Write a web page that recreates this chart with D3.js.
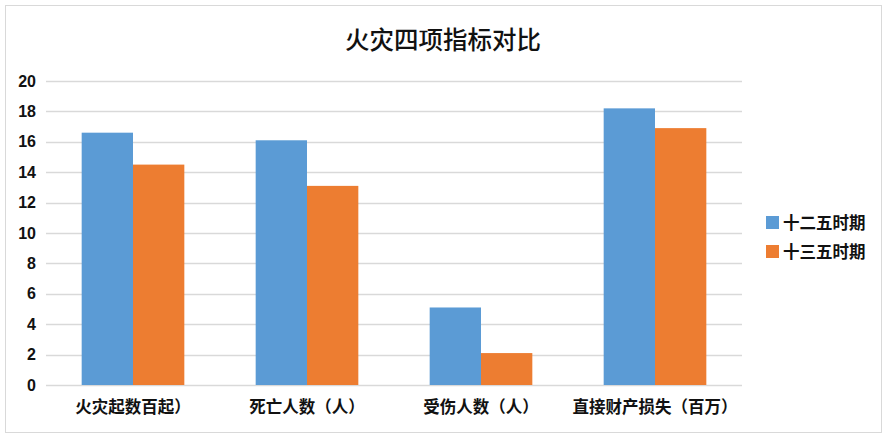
<!DOCTYPE html>
<html><head><meta charset="utf-8">
<script src="https://cdn.jsdelivr.net/npm/d3@7"></script>
<style>body{margin:0;background:#fff}</style>
</head><body>
<svg id="c" width="889" height="440"></svg>
<script>
const categories = ["火灾起数百起）", "死亡人数（人）", "受伤人数（人）", "直接财产损失（百万）"];
const seriesNames = ["十二五时期", "十三五时期"];
const series12 = [16.6, 16.1, 5.1, 18.2];
const series13 = [14.5, 13.1, 2.1, 16.9];
const yTicks = [0, 2, 4, 6, 8, 10, 12, 14, 16, 18, 20];
const colors = ["#5b9bd5", "#ed7d31"];

(function () {
const svg = d3.select("#c");
const font = "'Noto Sans CJK SC', 'Liberation Sans', sans-serif";
svg.append("rect").attr("x", 5.5).attr("y", 5.5).attr("width", 876).attr("height", 427)
  .attr("fill", "#fff").attr("stroke", "#d9d9d9").attr("stroke-width", 1);

const pL = 46, pR = 742, pT = 81, pB = 385;
const x = d3.scaleBand().domain(categories).range([pL, pR]).paddingInner(0).paddingOuter(0);
const y = d3.scaleLinear().domain([0, 20]).range([pB, pT]);
const groupW = x.bandwidth() * 0.59;
const xs = d3.scaleBand().domain(seriesNames).range([0, groupW]);

svg.append("g").selectAll("line").data(yTicks).join("line")
  .attr("x1", pL).attr("x2", pR)
  .attr("y1", d => Math.round(y(d)) + 0.5).attr("y2", d => Math.round(y(d)) + 0.5)
  .attr("stroke", "#d9d9d9").attr("stroke-width", 1.3);

const yAxis = d3.axisLeft(y).tickValues(yTicks).tickSize(0).tickPadding(10);
const ya = svg.append("g").attr("transform", `translate(${pL},0)`).call(yAxis);
ya.select(".domain").remove();
ya.selectAll("text").attr("font-family", "'Liberation Sans', Arial, sans-serif")
  .attr("font-size", 16).attr("font-weight", "bold").attr("fill", "#111");

const data = [series12, series13];
data.forEach((vals, si) => {
  svg.append("g").selectAll("rect").data(categories).join("rect")
    .attr("x", c => x(c) + (x.bandwidth() - groupW) / 2 + xs(seriesNames[si]))
    .attr("width", xs.bandwidth())
    .attr("y", (c, i) => y(vals[i]))
    .attr("height", (c, i) => pB - y(vals[i]))
    .attr("fill", colors[si]);
});

const xAxis = d3.axisBottom(x).tickSize(0).tickPadding(16);
const xa = svg.append("g").attr("transform", `translate(0,${pB})`).call(xAxis);
xa.select(".domain").remove();
xa.selectAll("text").attr("font-family", font).attr("font-size", 16.5)
  .attr("font-weight", "bold").attr("fill", "#111");

svg.append("text").attr("x", 443).attr("y", 49).attr("text-anchor", "middle")
  .attr("font-family", font).attr("font-size", 24.5).attr("font-weight", 500).attr("fill", "#111")
  .text("火灾四项指标对比");

const lg = svg.append("g");
seriesNames.forEach((n, i) => {
  const yy = 223 + i * 29;
  lg.append("rect").attr("x", 766).attr("y", yy - 7).attr("width", 13).attr("height", 13).attr("fill", colors[i]);
  lg.append("text").attr("x", 783).attr("y", yy).attr("dy", "0.36em")
    .attr("font-family", font).attr("font-size", 16.5).attr("font-weight", "bold").attr("fill", "#111").text(n);
});
})();
</script>
</body></html>
